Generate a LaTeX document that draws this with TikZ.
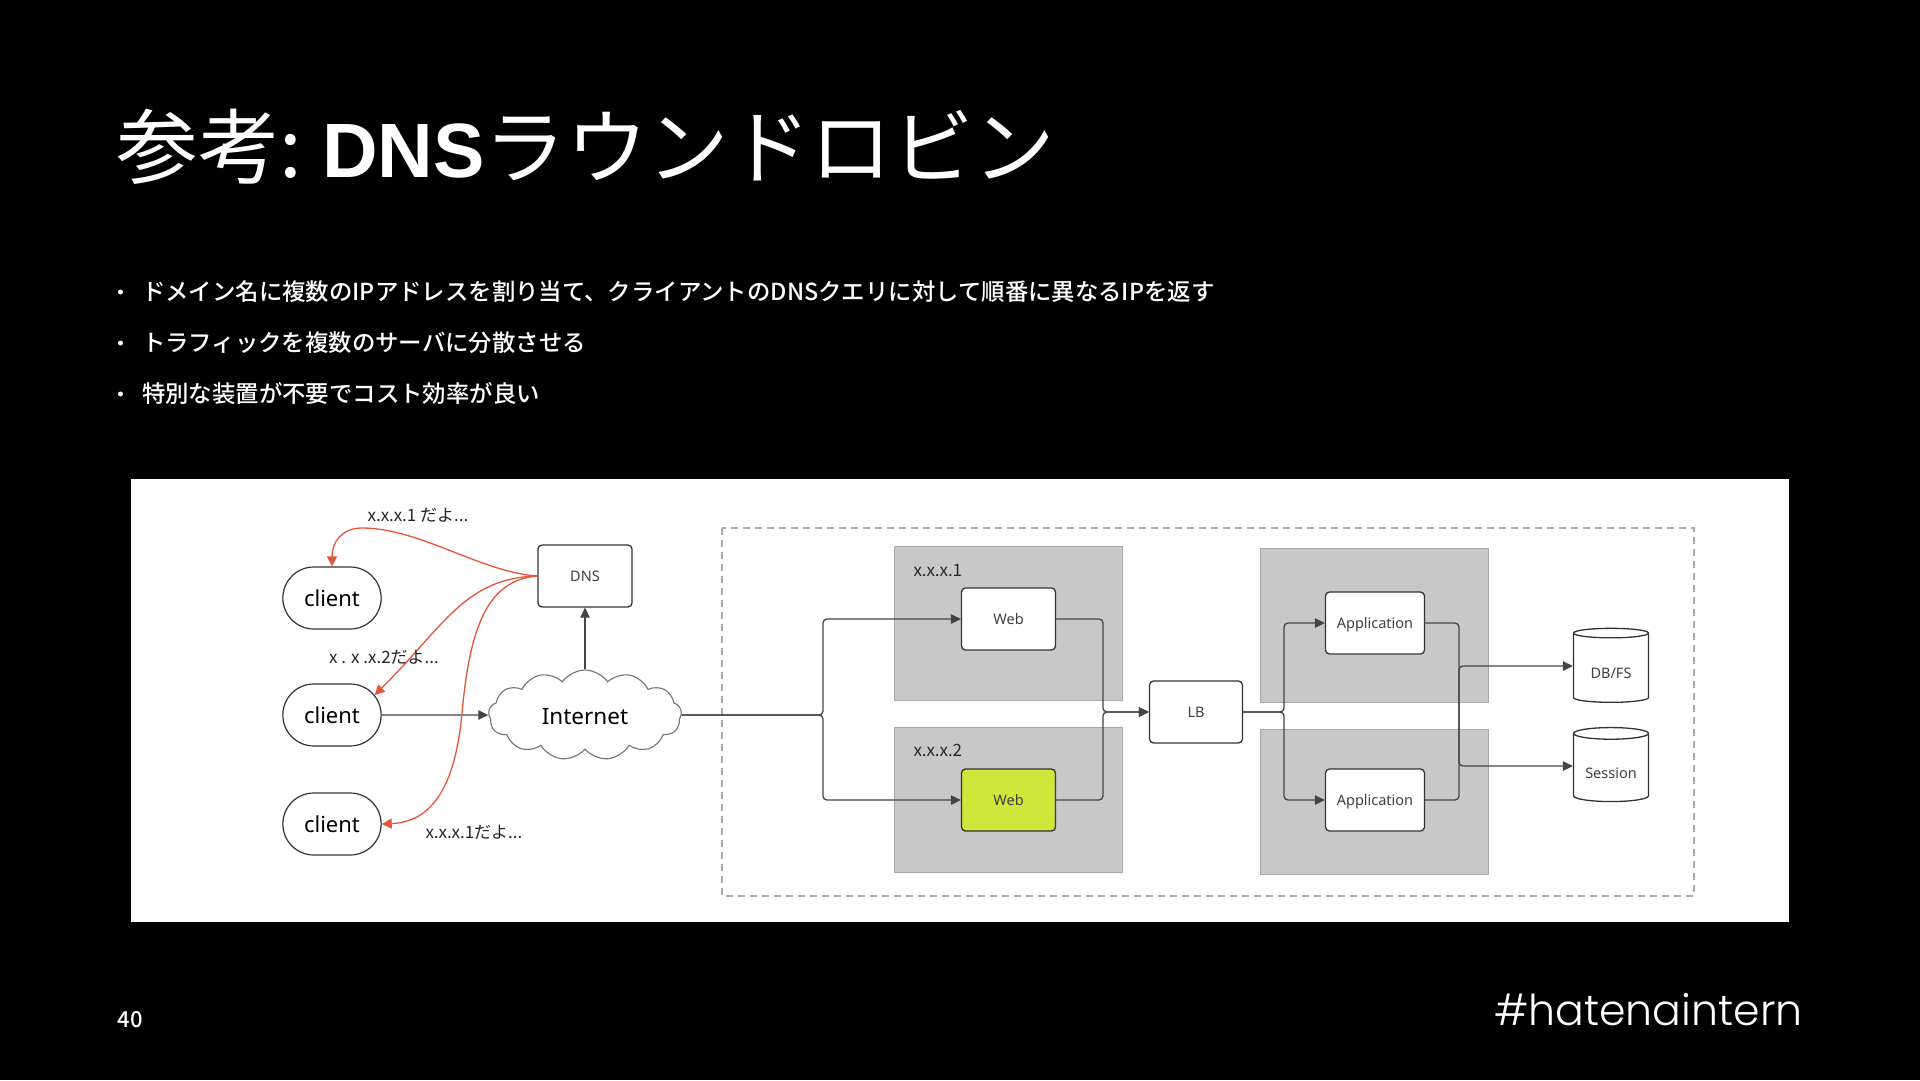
\documentclass[tikz,border=0pt]{standalone}
\usepackage{fontspec}
\setmainfont{Noto Sans CJK JP}
\newfontfamily\medfont{Noto Sans CJK JP Medium}
\newfontfamily\tagfont{Poppins Light}
\newfontfamily\diagfont{Noto Sans}
\newfontfamily\headfont{Liberation Sans}
\usetikzlibrary{arrows.meta,shapes.geometric,shapes.misc,shapes.symbols}
\definecolor{linegray}{HTML}{444444}
\definecolor{groupgray}{HTML}{C8C8C9}
\definecolor{groupline}{HTML}{A8A8AC}
\definecolor{dashgray}{HTML}{ABABAB}
\definecolor{replyred}{HTML}{E4553C}
\definecolor{webgreen}{HTML}{CFE63A}
\tikzset{
  conn/.style={draw=linegray, line width=1.3pt, rounded corners=4pt},
  tip/.style={-{Triangle[length=10pt,width=9.5pt]}},
  reply/.style={draw=replyred, line width=1.3pt, -{Triangle[length=10pt,width=10pt]}},
  srv/.style={draw=black!80, rounded corners=4pt, line width=1.3pt, fill=white,
    minimum height=62pt, text=black!75, text depth=0pt, font=\diagfont\fontsize{14.5}{15}\selectfont},
  clientbox/.style={draw=black!80, rounded rectangle, line width=1.2pt,
    minimum width=105pt, minimum height=62pt, font=\diagfont\fontsize{22}{22}\selectfont},
  group/.style={draw=groupline, fill=groupgray, line width=1pt, anchor=north west},
  store/.style={draw=black!80, fill=white, cylinder, shape border rotate=90, aspect=0.2,
    line width=1.3pt, minimum width=75pt, minimum height=74pt, text height=19pt, text depth=0pt,
    text=black!75, font=\diagfont\fontsize{14.5}{15}\selectfont},
  smalltext/.style={font=\fontsize{17}{17}\selectfont, text=black!85},
  bullet/.style={anchor=west, text=white, font=\medfont\fontsize{23.4}{24}\selectfont},
}
\begin{document}
\begin{tikzpicture}[x=1pt, y=-1pt]
  % Fondo
  \fill[black] (0,0) rectangle (1920,1080);
  \useasboundingbox (0,0) rectangle (1920,1080);
  % Titulo y lista
  \node[anchor=west, text=white, font=\fontsize{81.5}{82}\selectfont] (title) at (113,147)
    {参考:\hspace{20pt}{\headfont\bfseries\fontsize{77}{82}\selectfont DNS}ラウンドロビン};
  \foreach \y/\t in {292/ドメイン名に複数のIPアドレスを割り当て、クライアントのDNSクエリに対して順番に異なるIPを返す,
    343/トラフィックを複数のサーバに分散させる, 394/特別な装置が不要でコスト効率が良い} {
    \fill[white] (120.5,\y) circle (2.5pt);
    \node[bullet] at (138.5,\y) {\t};
  }
  % Panel
  \fill[white] (131,479) rectangle (1789,922);
  \draw[dashgray, dash pattern=on 7pt off 5pt, line width=1.3pt] (722,528) rectangle (1694,896);
  % Grupos
  \node[group, minimum width=228pt, minimum height=154pt] (webgroupa) at (894,546) {};
  \node[group, minimum width=228pt, minimum height=145pt] (webgroupb) at (894,727) {};
  \node[group, minimum width=228pt, minimum height=154pt] (appgroupa) at (1260,548) {};
  \node[group, minimum width=228pt, minimum height=145pt] (appgroupb) at (1260,729) {};
  \node[smalltext, anchor=west] (iplabela) at (910,571) {x.x.x.1};
  \node[smalltext, anchor=west] (iplabelb) at (910,750) {x.x.x.2};
  % Clientes e Internet
  \node[clientbox] (clienta) at (332,598) {client};
  \node[clientbox] (clientb) at (332,715) {client};
  \node[clientbox] (clientc) at (332,824) {client};
  \node[srv, minimum width=94pt] (dns) at (585,576) {DNS};
  \node[cloud, draw=black!55, fill=white, cloud puffs=13, cloud puff arc=110, aspect=2.2,
    line width=1.1pt, inner sep=0pt, minimum width=193pt, minimum height=90pt, text height=19pt,
    font=\diagfont\fontsize{22.5}{23}\selectfont] (internet) at (585,715) {Internet};
  % Servidores
  \node[srv, minimum width=94pt] (weba) at (1008.5,619) {Web};
  \node[srv, minimum width=94pt, fill=webgreen] (webb) at (1008.5,800) {Web};
  \node[srv, minimum width=93pt] (lb) at (1196,712) {LB};
  \node[srv, minimum width=99pt] (appa) at (1375,623) {Application};
  \node[srv, minimum width=99pt] (appb) at (1375,800) {Application};
  \node[store] (db) at (1611,669) {DB/FS};
  \node[store] (session) at (1611,769) {Session};
  % Puntos de union
  \coordinate (splitweb) at (823,715);
  \coordinate (joinweb) at (1103,712);
  \coordinate (splitapp) at (1284,712);
  \coordinate (joindb) at (1459,666);
  \coordinate (joinsession) at (1459,766);
  \coordinate (bendtop) at (362,528);
  \coordinate (bendmid) at (462,713);
  % Conexiones
  \draw[conn, tip] (clientb.east) -- (internet.west);
  \draw[conn, tip] (internet.north) -- (dns.south);
  \draw[conn, tip] (internet.east) -- (splitweb) |- (weba.west);
  \draw[conn, tip] (internet.east) -- (splitweb) |- (webb.west);
  \draw[conn, tip] (weba.east) -| (joinweb) -- (lb.west);
  \draw[conn, tip] (webb.east) -| (joinweb) -- (lb.west);
  \draw[conn, tip] (lb.east) -- (splitapp) |- (appa.west);
  \draw[conn, tip] (lb.east) -- (splitapp) |- (appb.west);
  \draw[conn, tip] (appa.east) -| (joinsession) -- (joinsession -| session.west);
  \draw[conn, tip] (appb.east) -| (joindb) -- (joindb -| db.west);
  % Respuestas
  \draw[reply] (dns.west) .. controls (480,572) and (420,528) .. (bendtop)
    .. controls (342,528) and (332,542) .. (clienta.north);
  \draw[reply] (dns.west) .. controls (465,578) and (445,625) .. (clientb.25);
  \draw[reply] (dns.west) .. controls (482,580) and (469,640) .. (bendmid)
    .. controls (455,790) and (430,822) .. (clientc.east);
  % Etiquetas
  \node[smalltext] (replya) at (418,515) {x.x.x.1 だよ...};
  \node[smalltext] (replyb) at (384,657) {x . x .x.2だよ...};
  \node[smalltext] (replyc) at (474,832) {x.x.x.1だよ...};
  % Pie
  \node[anchor=west, text=white, font=\medfont\fontsize{22}{22}\selectfont] (pagenum) at (114,1020) {40};
  \node[anchor=east, text=white, font=\tagfont\fontsize{42.6}{46}\selectfont] (hashtag) at (1806,1010) {\#hatenaintern};
\end{tikzpicture}
\end{document}
